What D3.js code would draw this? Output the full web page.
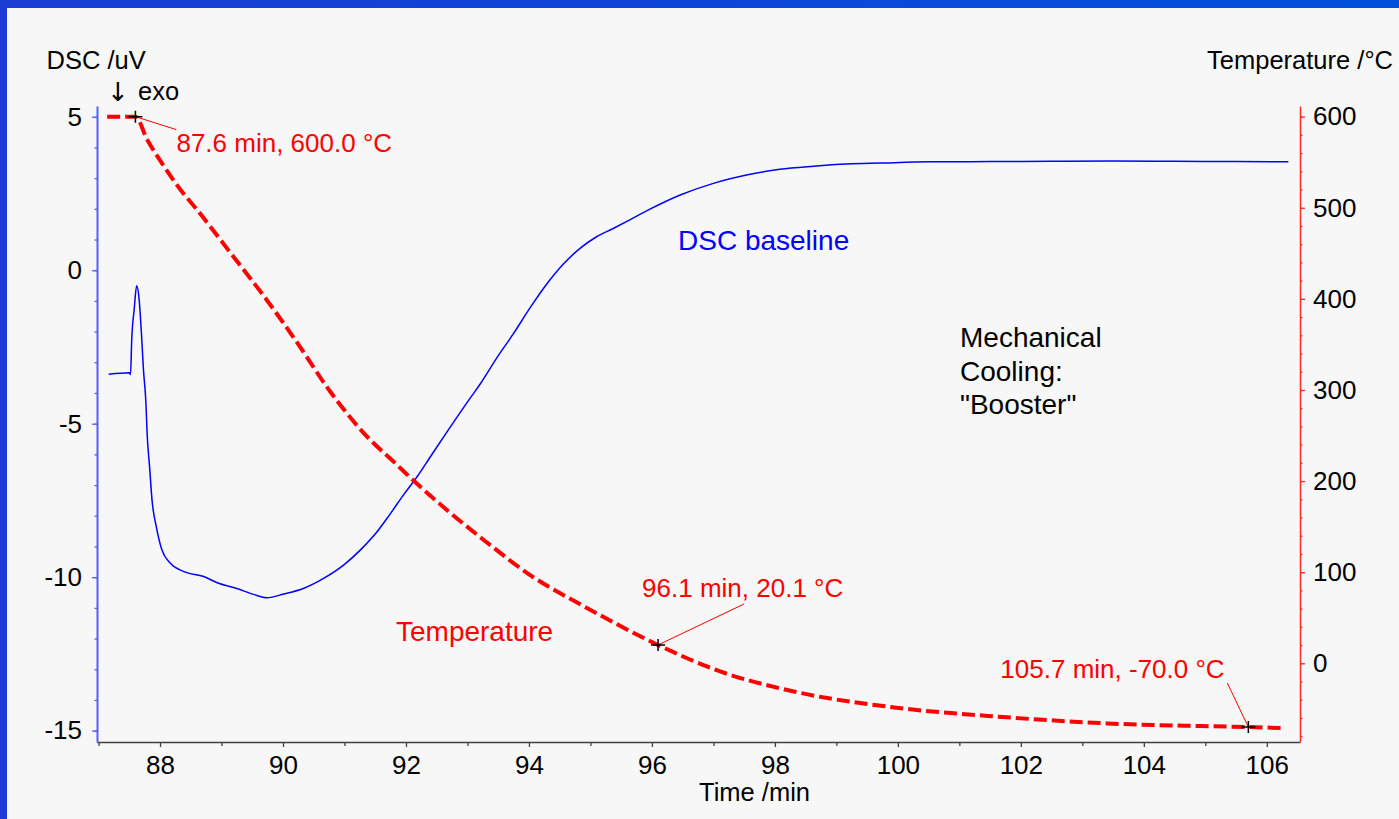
<!DOCTYPE html>
<html>
<head>
<meta charset="utf-8">
<script src="https://cdn.jsdelivr.net/npm/d3@7"></script>
<style>
  html, body { margin: 0; padding: 0; background: #f7f7f7; }
  svg { display: block; }
  text { font-family: "Liberation Sans", Arial, sans-serif; }
  text.arrow { font-family: "DejaVu Sans", sans-serif; }
</style>
</head>
<body>
<svg id="chart" width="1399" height="819"></svg>
<script>
// DSC signal (uV) against time (min)
const dscTime = [87.165, 87.50, 87.52, 87.54, 87.58, 87.62, 87.66, 87.70, 87.73, 87.77, 87.79, 87.83, 87.87,
  87.94, 88.03, 88.17, 88.39, 88.71, 88.93, 89.25, 89.52, 89.74, 90.01, 90.34, 90.66, 90.99, 91.26,
  91.53, 91.75, 91.96, 92.18, 92.40, 92.67, 93.05, 93.21, 93.48, 93.75, 94.02, 94.29, 94.56, 94.83,
  95.10, 95.37, 95.64, 95.92, 96.46, 97.00, 97.54, 98.08, 98.63, 99.17, 99.71, 100.52, 101.5, 102.5,
  103.5, 104.5, 105.5, 106.35];
const dscValue = [-3.39, -3.34, -3.40, -2.25, -1.27, -0.51, -0.95, -2.14, -3.23, -4.30, -5.31, -6.40, -7.49,
  -8.36, -9.11, -9.55, -9.82, -9.98, -10.18, -10.37, -10.56, -10.67, -10.55, -10.36, -10.04, -9.60, -9.11,
  -8.52, -7.92, -7.32, -6.73, -6.07, -5.26, -4.15, -3.70, -2.85, -2.06, -1.22, -0.45, 0.20, 0.71,
  1.09, 1.36, 1.64, 1.94, 2.45, 2.83, 3.10, 3.29, 3.39, 3.46, 3.49, 3.53, 3.54, 3.55,
  3.56, 3.55, 3.54, 3.53];

// Furnace temperature (°C) against time (min)
const tempTime = [87.14, 87.45, 87.6, 87.79, 88.06, 88.33, 88.60, 89.14, 89.69, 90.23, 90.77, 91.31, 91.85,
  92.18, 92.67, 93.29, 94.06, 94.91, 96.1, 97.03, 98.31, 100.01, 101.71, 103.41, 105.7, 106.26];
const tempValue = [600.0, 600.0, 600.0, 575, 546, 520, 498, 451, 403, 352, 298, 253, 218,
  197, 168, 134, 95, 62, 20.1, -7, -31, -49, -59, -66, -70.0, -71];

// Marked points on the temperature curve
const markTime = [87.6, 96.1, 105.7];
const markTemp = [600.0, 20.1, -70.0];

// Axis ticks
const timeTicks = [88, 90, 92, 94, 96, 98, 100, 102, 104, 106];
const dscTicks = [-15, -10, -5, 0, 5];
const tempTicks = [0, 100, 200, 300, 400, 500, 600];

const svg = d3.select("#chart");
const W = 1399, H = 819;
const plotLeft = 97, plotRight = 1300, plotTop = 106, plotBottom = 742;

// window frame
const defs = svg.append("defs");
const grad = defs.append("linearGradient").attr("id", "frameGrad")
  .attr("x1", "0%").attr("x2", "100%").attr("y1", "0%").attr("y2", "0%");
grad.append("stop").attr("offset", "0%").attr("stop-color", "#1a3cd2");
grad.append("stop").attr("offset", "100%").attr("stop-color", "#0050dc");
svg.append("rect").attr("x", 0).attr("y", 0).attr("width", W).attr("height", H).attr("fill", "#f7f7f7");
svg.append("rect").attr("x", 0).attr("y", 0).attr("width", W).attr("height", 8).attr("fill", "url(#frameGrad)");
svg.append("rect").attr("x", 0).attr("y", 0).attr("width", 7).attr("height", H).attr("fill", "#1a3cd2");

const x = d3.scaleLinear().domain([86.975, 106.54]).range([plotLeft, plotRight]);
const yL = d3.scaleLinear().domain([-15.37, 5.35]).range([plotBottom, plotTop]);
const yR = d3.scaleLinear().domain([-86.4, 611.7]).range([plotBottom, plotTop]);

const FS = 26;
const FONT = '"Liberation Sans", Arial, sans-serif';
const plain = d => String(d);

// bottom axis
const minorTime = d3.range(87, 107, 1).filter(v => v % 2 !== 0);
svg.append("g").attr("transform", `translate(0,${plotBottom})`)
  .call(d3.axisBottom(x).tickValues(minorTime).tickSize(4).tickFormat(""))
  .call(g => g.select(".domain").remove())
  .call(g => g.selectAll("line").attr("stroke", "#404040").attr("stroke-width", 1.3));
const xAxis = svg.append("g").attr("transform", `translate(0,${plotBottom})`)
  .call(d3.axisBottom(x).tickValues(timeTicks).tickFormat(plain).tickSize(5).tickSizeOuter(0).tickPadding(9));
xAxis.select(".domain").attr("stroke", "#404040").attr("stroke-width", 1.6);
xAxis.selectAll("line").attr("stroke", "#404040").attr("stroke-width", 1.3);
xAxis.selectAll("text").attr("font-size", FS).attr("fill", "#000").attr("font-family", FONT);

// left axis (DSC)
const blueAxis = "#5a5aff";
svg.append("g").attr("transform", `translate(${plotLeft},0)`)
  .call(d3.axisLeft(yL).tickValues(d3.range(-15, 6, 1)).tickSize(2.5).tickFormat(""))
  .call(g => g.select(".domain").remove())
  .call(g => g.selectAll("line").attr("stroke", blueAxis).attr("stroke-width", 1.3));
const yAxisL = svg.append("g").attr("transform", `translate(${plotLeft},0)`)
  .call(d3.axisLeft(yL).tickValues(dscTicks).tickFormat(plain).tickSize(5).tickSizeOuter(0).tickPadding(10));
yAxisL.select(".domain").attr("stroke", blueAxis).attr("stroke-width", 2);
yAxisL.selectAll("line").attr("stroke", blueAxis).attr("stroke-width", 1.3);
yAxisL.selectAll("text").attr("font-size", FS).attr("fill", "#000").attr("font-family", FONT);

// right axis (temperature)
const redAxis = "#ff2a2a";
svg.append("g").attr("transform", `translate(${plotRight},0)`)
  .call(d3.axisRight(yR).tickValues(d3.range(-80, 601, 20)).tickSize(2.5).tickFormat(""))
  .call(g => g.select(".domain").remove())
  .call(g => g.selectAll("line").attr("stroke", redAxis).attr("stroke-width", 1.3));
const yAxisR = svg.append("g").attr("transform", `translate(${plotRight},0)`)
  .call(d3.axisRight(yR).tickValues(tempTicks).tickFormat(plain).tickSize(5).tickSizeOuter(0).tickPadding(8));
yAxisR.select(".domain").attr("stroke", redAxis).attr("stroke-width", 1.5);
yAxisR.selectAll("line").attr("stroke", redAxis).attr("stroke-width", 1.3);
yAxisR.selectAll("text").attr("font-size", FS).attr("fill", "#000").attr("font-family", FONT);

// axis titles
svg.append("text").attr("x", 46.5).attr("y", 69).attr("font-size", 25.5).text("DSC /uV");
svg.append("text").attr("class", "arrow").attr("x", 107).attr("y", 101).attr("font-size", 26).text("\u2193");
svg.append("text").attr("x", 138).attr("y", 100).attr("font-size", 25.5).text("exo");
svg.append("text").attr("x", 1393).attr("y", 69.3).attr("font-size", 25.5)
  .attr("text-anchor", "end").text("Temperature /\u00B0C");
svg.append("text").attr("x", 699).attr("y", 801).attr("font-size", 25.5).text("Time /min");

// curves
const dscData = dscTime.map((t, i) => [t, dscValue[i]]);
const tempData = tempTime.map((t, i) => [t, tempValue[i]]);

svg.append("path").datum(dscData)
  .attr("fill", "none").attr("stroke", "#0000ff").attr("stroke-width", 1.5)
  .attr("stroke-linejoin", "round")
  .attr("d", d3.line().x(d => x(d[0])).y(d => yL(d[1])).curve(d3.curveMonotoneX));

svg.append("path").datum(tempData)
  .attr("fill", "none").attr("stroke", "#ff0000").attr("stroke-width", 4)
  .attr("stroke-dasharray", "13,5")
  .attr("d", d3.line().x(d => x(d[0])).y(d => yR(d[1])).curve(d3.curveMonotoneX));

// marked points with leader lines and labels
const labelOffsets = [
  { lx: 41, ly: 13, tx: 41, ty: 35 },
  { lx: 86, ly: -41, tx: -16, ty: -48 },
  { lx: -21, ly: -44, tx: -248, ty: -49 }
];
markTime.forEach((t, i) => {
  const px = x(t), py = yR(markTemp[i]);
  const o = labelOffsets[i];
  svg.append("line").attr("x1", px).attr("y1", py).attr("x2", px + o.lx).attr("y2", py + o.ly)
    .attr("stroke", "#ff0000").attr("stroke-width", 1);
  svg.append("path").attr("d", `M${px - 7},${py}H${px + 7}M${px},${py - 6}V${py + 6}`)
    .attr("stroke", "#000").attr("stroke-width", 1.5);
  svg.append("text").attr("x", px + o.tx).attr("y", py + o.ty).attr("font-size", FS)
    .attr("fill", "#ff0000")
    .text(`${t.toFixed(1)} min, ${markTemp[i].toFixed(1)} \u00B0C`);
});

// curve names and note
svg.append("text").attr("x", 678).attr("y", 250).attr("font-size", 28).attr("fill", "#0000ff").text("DSC baseline");
svg.append("text").attr("x", 396).attr("y", 641).attr("font-size", 28).attr("fill", "#ff0000").text("Temperature");
const note = svg.append("text").attr("x", 960).attr("y", 347).attr("font-size", 28).attr("fill", "#000");
["Mechanical", "Cooling:", "\"Booster\""].forEach((s, i) => {
  note.append("tspan").attr("x", 960).attr("dy", i === 0 ? 0 : 33.5).text(s);
});
</script>
</body>
</html>
